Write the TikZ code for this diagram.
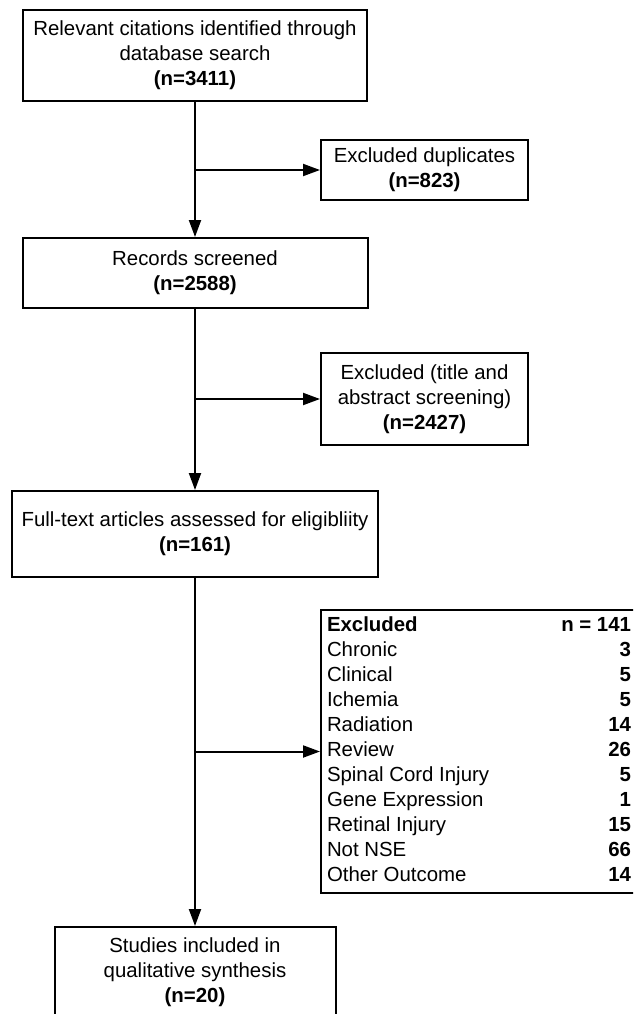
\documentclass[tikz,border=0pt]{standalone}
\usepackage{fontspec}
\setmainfont{Liberation Sans}
\usetikzlibrary{arrows.meta}
\begin{document}
\begin{tikzpicture}[x=1pt,y=-1pt,
  every node/.style={font=\fontsize{20.4}{25}\selectfont},
  stepbox/.style={draw=black, line width=2pt, align=center, inner sep=0pt},
  arr/.style={line width=2pt, -{Triangle[length=17pt,width=12pt]}}]
\clip (0,0) rectangle (633,1014);
\fill[white] (0,0) rectangle (633,1014);
\node[stepbox, minimum width=344pt, minimum height=91pt] (box1) at (195,55.5)
  {Relevant citations identified through\\database search\\\textbf{(n=3411)}};
\node[stepbox, minimum width=207pt, minimum height=60pt] (dup) at (424.5,170)
  {Excluded duplicates\\\textbf{(n=823)}};
\node[stepbox, minimum width=345pt, minimum height=70pt] (records) at (195,273)
  {Records screened\\\textbf{(n=2588)}};
\node[stepbox, minimum width=207pt, minimum height=92pt] (title) at (424.5,399)
  {Excluded (title and\\abstract screening)\\\textbf{(n=2427)}};
\node[stepbox, minimum width=366pt, minimum height=86pt] (full) at (195,534)
  {Full-text articles assessed for eligibliity\\\textbf{(n=161)}};
\node[draw=black, line width=2pt, inner xsep=6pt, inner ysep=4pt, minimum width=316pt, minimum height=283pt] (list) at (479,751.5)
  {\begin{tabular*}{304pt}{@{}l@{\extracolsep{\fill}}r@{}}
   \textbf{Excluded} & \textbf{n = 141}\\
   Chronic & \textbf{3}\\
   Clinical & \textbf{5}\\
   Ichemia & \textbf{5}\\
   Radiation & \textbf{14}\\
   Review & \textbf{26}\\
   Spinal Cord Injury & \textbf{5}\\
   Gene Expression & \textbf{1}\\
   Retinal Injury & \textbf{15}\\
   Not NSE & \textbf{66}\\
   Other Outcome & \textbf{14}
   \end{tabular*}};
\node[stepbox, minimum width=281pt, minimum height=91pt] (final) at (195,972.5)
  {Studies included in\\qualitative synthesis\\\textbf{(n=20)}};
\draw[arr] (box1.south) -- (records.north);
\draw[arr] (records.south) -- (full.north);
\draw[arr] (full.south) -- (final.north);
\draw[arr] (box1.south |- dup.west) -- (dup.west);
\draw[arr] (records.south |- title.west) -- (title.west);
\draw[arr] (full.south |- list.west) -- (list.west);
\end{tikzpicture}
\end{document}
